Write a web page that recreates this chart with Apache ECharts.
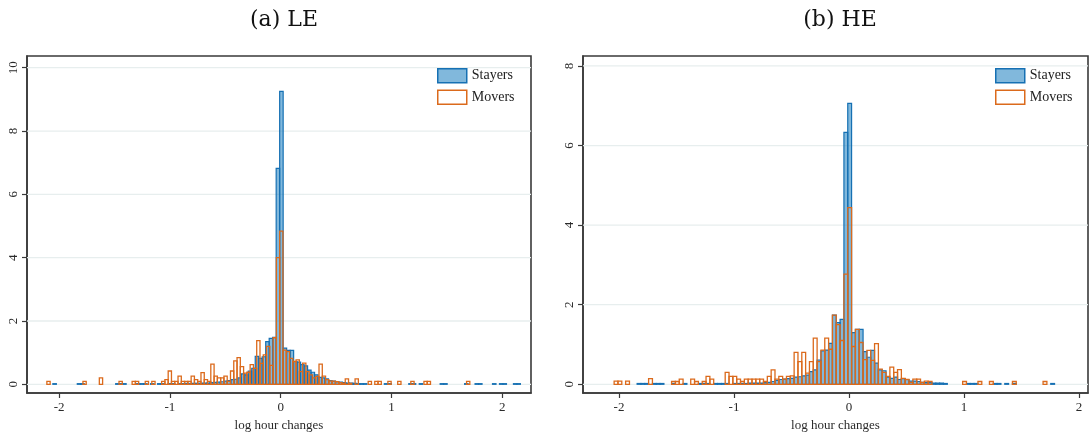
<!DOCTYPE html>
<html>
<head>
<meta charset="utf-8">
<script src="https://cdn.jsdelivr.net/npm/echarts@6/dist/echarts.min.js"></script>
<style>
  html, body { margin: 0; padding: 0; background: #ffffff; }
  #chart { width: 1089px; height: 439px; }
</style>
</head>
<body>
<div id="chart"></div>
<script>
// ---- Histogram densities of log hour changes ----
// Each series: left edge of first bin, bin width, density per bin.

// (a) LE — stayers
const leStayersStart = -2.0565;
const leStayersWidth = 0.0315;
const leStayersDensity = [
  0.02, 0, 0, 0, 0, 0, 0, 0.02, 0.02, 0,
  0, 0, 0, 0, 0, 0, 0, 0, 0.02, 0.02,
  0.02, 0, 0, 0, 0.02, 0.02, 0.02, 0, 0.02, 0,
  0.02, 0.02, 0, 0.02, 0.02, 0, 0.02, 0.02, 0.03, 0.02,
  0.03, 0.03, 0.03,
  0.04, 0.04, 0.05, 0.06, 0.07, 0.08, 0.10, 0.12, 0.15, 0.16,
  0.20, 0.33, 0.30, 0.42, 0.50, 0.88, 0.82, 0.87, 1.35, 1.45,
  1.48, 6.82,
  9.25,
  1.14, 1.07, 1.07, 0.72, 0.70, 0.62, 0.58, 0.45, 0.38, 0.30,
  0.22, 0.20, 0.17, 0.12, 0.10, 0.08, 0.07, 0.05, 0.04, 0.04,
  0.03,
  0.02, 0.02, 0.02, 0, 0, 0, 0, 0, 0.02, 0.02,
  0, 0, 0, 0, 0, 0.02, 0.02, 0, 0.02, 0,
  0, 0, 0, 0, 0.02, 0.02, 0, 0, 0, 0,
  0, 0.02, 0, 0, 0.02, 0.02, 0, 0, 0, 0.02,
  0, 0.02, 0.02, 0, 0, 0.02, 0.02
];

// (a) LE — movers
const leMoversStart = -2.1106;
const leMoversWidth = 0.0296;
const leMoversDensity = [
  0.09, 0, 0, 0, 0, 0, 0, 0, 0, 0,
  0, 0.09, 0, 0, 0, 0, 0.20, 0, 0, 0,
  0, 0, 0.09, 0, 0, 0,
  0.09, 0.09, 0, 0, 0.09, 0, 0.09, 0, 0, 0.09,
  0.15, 0.42, 0.09, 0.09, 0.26, 0.09, 0.09, 0.09, 0.26, 0.15,
  0.09, 0.37, 0.15, 0.09, 0.64, 0.26, 0.20, 0.20, 0.26, 0.09,
  0.42, 0.74, 0.84, 0.56, 0.35, 0.38, 0.62, 0.50, 1.38, 0.66,
  0.93, 1.20, 0.60, 1.47, 4.00,
  4.84,
  1.08, 1.03, 0.82, 0.72, 0.77, 0.40, 0.67, 0.40, 0.30, 0.20,
  0.25, 0.64, 0.26, 0.15, 0.10, 0.10, 0.08, 0.05, 0.03, 0.17,
  0.03, 0, 0.17, 0, 0, 0, 0.09, 0, 0.09, 0.09,
  0, 0, 0.09, 0, 0, 0.09, 0, 0, 0, 0.09,
  0, 0, 0, 0.09, 0.09, 0, 0, 0, 0, 0,
  0, 0, 0, 0, 0, 0, 0.09, 0
];

// (b) HE — both groups share one bin grid
const heBinStart = -2.0423;
const heBinWidth = 0.0333;
const heStayersDensity = [
  0, 0, 0, 0, 0, 0, 0.02, 0.02, 0.02, 0,
  0.02, 0.02, 0.02, 0, 0, 0.02, 0, 0, 0.02, 0,
  0, 0, 0.02, 0.02, 0.02, 0, 0.02, 0.02, 0.02, 0.02,
  0,
  0.02, 0.02, 0.02, 0.02, 0.03, 0.03, 0.03, 0.03, 0.04, 0.05,
  0.07, 0.10, 0.12, 0.13, 0.14, 0.15, 0.18, 0.19, 0.21, 0.23,
  0.32, 0.36, 0.61, 0.84, 0.86, 1.03, 1.74, 1.55, 1.63, 6.33,
  7.06,
  1.30, 1.38, 1.38, 0.82, 0.68, 0.85, 0.53, 0.36, 0.34, 0.18,
  0.15, 0.18, 0.12, 0.14, 0.12, 0.08, 0.08, 0.07, 0.05, 0.04,
  0.04, 0.03, 0.03, 0.03, 0.02, 0, 0, 0, 0, 0,
  0.02, 0.02, 0.02, 0, 0, 0, 0, 0.02, 0.02, 0,
  0.02, 0, 0.02, 0, 0, 0, 0, 0, 0, 0,
  0, 0, 0.02, 0
];
const heMoversDensity = [
  0.08, 0.08, 0, 0.08, 0, 0, 0, 0, 0, 0.14,
  0, 0, 0, 0, 0, 0.07, 0.07, 0.13, 0, 0,
  0.13, 0.07, 0, 0.07, 0.20, 0.13, 0, 0, 0, 0.30,
  0.20, 0.20, 0.13, 0.07, 0.13, 0.13, 0.13, 0.13, 0.13, 0.07,
  0.20, 0.36, 0.13, 0.20, 0.13, 0.20, 0.21, 0.80, 0.57, 0.80,
  0.28, 0.57, 1.16, 0.57, 0.86, 1.16, 0.88, 1.74, 1.50, 1.10,
  2.77,
  4.44,
  0.95, 1.38, 1.05, 0.62, 0.85, 0.60, 1.02, 0.38, 0.30, 0.20,
  0.43, 0.30, 0.37, 0.15, 0.12, 0.05, 0.13, 0.13, 0.05, 0.08,
  0.07, 0, 0, 0, 0, 0, 0, 0, 0, 0.07,
  0, 0, 0, 0.07, 0, 0, 0.07, 0, 0, 0,
  0, 0, 0.07, 0, 0, 0, 0, 0, 0, 0,
  0.07, 0, 0, 0
];

// Axis ticks
const xTicks = [-2, -1, 0, 1, 2];
const leYTicks = [0, 2, 4, 6, 8, 10];
const heYTicks = [0, 2, 4, 6, 8];

const panelTitles = ['(a) LE', '(b) HE'];
const seriesNames = ['Stayers', 'Movers'];
const xAxisTitle = 'log hour changes';

// ---- styling ----
const BLUE = '#1670b3';
const BLUE_FILL = 'rgba(26,125,192,0.55)';
const ORANGE = '#db6a1c';
const FRAME = '#3a3a3a';
const SERIF = '"Liberation Serif", "Times New Roman", serif';
const TITLE_FONT = '"DejaVu Serif", "Liberation Serif", serif';

function toBins(start, width, density) {
  const out = [];
  density.forEach((h, i) => {
    if (h > 0) out.push([start + i * width, start + (i + 1) * width, h]);
  });
  return out;
}

function barRenderer(fill, stroke, lineWidth) {
  return function (params, api) {
    const top = api.coord([api.value(0), api.value(2)]);
    const base = api.coord([api.value(1), 0]);
    return {
      type: 'rect',
      shape: { x: top[0], y: top[1], width: base[0] - top[0], height: base[1] - top[1] },
      style: { fill: fill, stroke: stroke, lineWidth: lineWidth }
    };
  };
}

function gridLineRenderer(params, api) {
  const cs = params.coordSys;
  const y = api.coord([0, api.value(1)])[1];
  return {
    type: 'line',
    shape: { x1: cs.x, y1: y, x2: cs.x + cs.width, y2: y },
    style: { stroke: '#e7eeee', lineWidth: 1.3 }
  };
}

function xAxisFor(gridIndex, min, max) {
  return {
    gridIndex: gridIndex, type: 'value', min: min, max: max, position: 'bottom',
    axisLine: { show: true, onZero: false, lineStyle: { color: FRAME, width: 1.6 } },
    axisTick: { show: true, customValues: xTicks, length: 5, lineStyle: { color: FRAME, width: 1.2 } },
    axisLabel: { customValues: xTicks, fontFamily: SERIF, fontSize: 13, color: '#2a2a2a', margin: 8 },
    splitLine: { show: false },
    name: xAxisTitle, nameLocation: 'middle', nameGap: 25,
    nameTextStyle: { fontFamily: SERIF, fontSize: 13, color: '#2a2a2a' }
  };
}

function yAxisFor(gridIndex, min, max, ticks) {
  return {
    gridIndex: gridIndex, type: 'value', min: min, max: max, position: 'left',
    axisLine: { show: true, onZero: false, lineStyle: { color: FRAME, width: 1.6 } },
    axisTick: { show: true, customValues: ticks, length: 5, lineStyle: { color: FRAME, width: 1.2 } },
    axisLabel: { customValues: ticks, rotate: 90, fontFamily: SERIF, fontSize: 13, color: '#2a2a2a', margin: 7 },
    splitLine: { show: false }
  };
}

function legendFor(left) {
  return {
    left: left, top: 68, padding: 0, orient: 'vertical', selectedMode: false,
    itemWidth: 29, itemHeight: 14, itemGap: 6,
    textStyle: { fontFamily: SERIF, fontSize: 14, color: '#222' },
    data: [
      { name: seriesNames[0], icon: 'rect', itemStyle: { color: BLUE_FILL, borderColor: BLUE, borderWidth: 1.5 } },
      { name: seriesNames[1], icon: 'rect', itemStyle: { color: '#ffffff', borderColor: ORANGE, borderWidth: 1.5 } }
    ]
  };
}

function panelSeries(idx, yTicks, stayers, movers) {
  return [
    {
      type: 'custom', xAxisIndex: idx, yAxisIndex: idx, silent: true, z: 1,
      renderItem: gridLineRenderer,
      data: yTicks.map(v => [0, v])
    },
    {
      name: seriesNames[0], type: 'custom', xAxisIndex: idx, yAxisIndex: idx, z: 2,
      itemStyle: { color: BLUE_FILL, borderColor: BLUE },
      renderItem: barRenderer(BLUE_FILL, BLUE, 1.2),
      encode: { x: [0, 1], y: 2 },
      data: stayers
    },
    {
      name: seriesNames[1], type: 'custom', xAxisIndex: idx, yAxisIndex: idx, z: 3,
      itemStyle: { color: '#ffffff', borderColor: ORANGE },
      renderItem: barRenderer('rgba(0,0,0,0)', ORANGE, 1.3),
      encode: { x: [0, 1], y: 2 },
      data: movers
    }
  ];
}

const chart = echarts.init(document.getElementById('chart'), null, { renderer: 'canvas' });

chart.setOption({
  animation: false,
  backgroundColor: '#ffffff',
  title: [
    { text: panelTitles[0], left: 279, top: 4, textAlign: 'center',
      textStyle: { fontFamily: TITLE_FONT, fontSize: 22, fontWeight: 'normal', color: '#111' } },
    { text: panelTitles[1], left: 835, top: 4, textAlign: 'center',
      textStyle: { fontFamily: TITLE_FONT, fontSize: 22, fontWeight: 'normal', color: '#111' } }
  ],
  legend: [legendFor(437), legendFor(995)],
  grid: [
    { left: 27, top: 56, width: 504, height: 337, show: true, borderColor: FRAME, borderWidth: 1.6, backgroundColor: 'transparent' },
    { left: 583, top: 56, width: 505, height: 337, show: true, borderColor: FRAME, borderWidth: 1.6, backgroundColor: 'transparent' }
  ],
  xAxis: [xAxisFor(0, -2.29, 2.26), xAxisFor(1, -2.313, 2.078)],
  yAxis: [yAxisFor(0, -0.275, 10.37, leYTicks), yAxisFor(1, -0.219, 8.25, heYTicks)],
  series: [].concat(
    panelSeries(0, leYTicks,
      toBins(leStayersStart, leStayersWidth, leStayersDensity),
      toBins(leMoversStart, leMoversWidth, leMoversDensity)),
    panelSeries(1, heYTicks,
      toBins(heBinStart, heBinWidth, heStayersDensity),
      toBins(heBinStart, heBinWidth, heMoversDensity))
  )
});
</script>
</body>
</html>
